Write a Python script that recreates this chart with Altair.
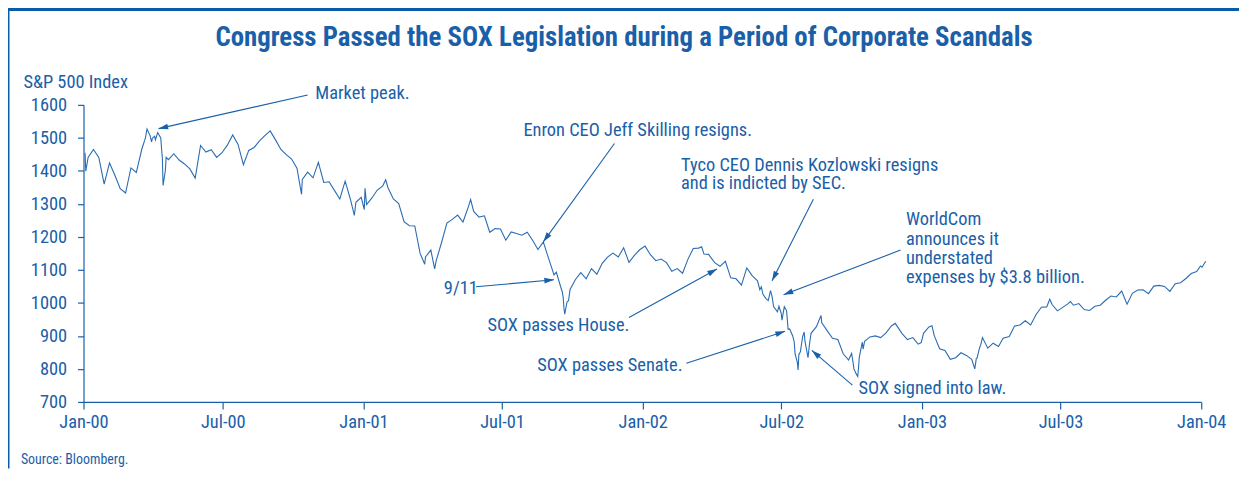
import math
import altair as alt
import pandas as pd

# ---------------- data ----------------
dates_2000 = ["2000-01-03", "2000-01-04", "2000-01-07", "2000-01-14", "2000-01-21", "2000-01-28",
              "2000-02-04", "2000-02-11", "2000-02-18", "2000-02-25", "2000-03-03", "2000-03-10",
              "2000-03-17", "2000-03-24", "2000-03-31", "2000-04-07", "2000-04-14", "2000-04-21",
              "2000-04-28", "2000-05-05", "2000-05-12", "2000-05-19", "2000-05-26", "2000-06-02",
              "2000-06-09", "2000-06-16", "2000-06-23", "2000-06-30", "2000-07-07", "2000-07-14",
              "2000-07-21", "2000-07-28", "2000-08-04", "2000-08-11", "2000-08-18", "2000-08-25",
              "2000-09-01", "2000-09-08", "2000-09-15", "2000-09-22", "2000-09-29", "2000-10-06",
              "2000-10-12", "2000-10-13", "2000-10-20", "2000-10-27", "2000-11-03", "2000-11-10",
              "2000-11-17", "2000-11-24", "2000-12-01", "2000-12-08", "2000-12-15", "2000-12-20",
              "2000-12-22", "2000-12-29"]
values_2000 = [1455, 1399, 1441, 1465, 1441, 1360,
               1424, 1387, 1346, 1333, 1409, 1395,
               1464, 1527, 1499, 1516, 1356, 1434,
               1452, 1433, 1421, 1406, 1378, 1477,
               1457, 1464, 1441, 1455, 1478, 1509,
               1480, 1419, 1462, 1471, 1491, 1507,
               1521, 1494, 1465, 1449, 1436, 1408,
               1329, 1374, 1396, 1379, 1426, 1365,
               1367, 1341, 1315, 1369, 1313, 1265,
               1305, 1320]

dates_2001 = ["2001-01-02", "2001-01-03", "2001-01-05", "2001-01-12", "2001-01-19", "2001-01-26",
              "2001-01-30", "2001-02-02", "2001-02-09", "2001-02-16", "2001-02-23", "2001-03-02",
              "2001-03-09", "2001-03-16", "2001-03-22", "2001-03-23", "2001-03-30", "2001-04-04",
              "2001-04-06", "2001-04-13", "2001-04-20", "2001-04-27", "2001-05-04", "2001-05-11",
              "2001-05-18", "2001-05-21", "2001-05-25", "2001-06-01", "2001-06-08", "2001-06-15",
              "2001-06-22", "2001-06-29", "2001-07-06", "2001-07-13", "2001-07-20", "2001-07-27",
              "2001-08-03", "2001-08-10", "2001-08-17", "2001-08-24", "2001-08-31", "2001-09-07",
              "2001-09-10", "2001-09-17", "2001-09-21", "2001-09-28", "2001-10-05", "2001-10-12",
              "2001-10-19", "2001-10-26", "2001-11-02", "2001-11-09", "2001-11-16", "2001-11-23",
              "2001-11-30", "2001-12-07", "2001-12-14", "2001-12-21", "2001-12-28"]
values_2001 = [1283, 1347, 1298, 1318, 1342, 1354,
               1373, 1349, 1315, 1301, 1246, 1234,
               1233, 1150, 1117, 1139, 1160, 1103,
               1128, 1183, 1242, 1253, 1266, 1245,
               1291, 1313, 1277, 1260, 1264, 1214,
               1225, 1224, 1190, 1215, 1210, 1205,
               1214, 1190, 1162, 1185, 1134, 1085,
               1093, 1039, 966, 1041, 1071, 1092,
               1073, 1104, 1087, 1120, 1139, 1151,
               1139, 1167, 1123, 1144, 1161]

dates_2002 = ["2002-01-04", "2002-01-11", "2002-01-18", "2002-01-25", "2002-02-01", "2002-02-08",
              "2002-02-15", "2002-02-22", "2002-03-01", "2002-03-08", "2002-03-15", "2002-03-19",
              "2002-03-22", "2002-03-28", "2002-04-05", "2002-04-12", "2002-04-19", "2002-04-26",
              "2002-05-03", "2002-05-10", "2002-05-17", "2002-05-24", "2002-05-31", "2002-06-07",
              "2002-06-14", "2002-06-21", "2002-06-28", "2002-07-05", "2002-07-12", "2002-07-19",
              "2002-07-23", "2002-07-26", "2002-07-31", "2002-08-05", "2002-08-09", "2002-08-16",
              "2002-08-22", "2002-08-23", "2002-08-30", "2002-09-06", "2002-09-13", "2002-09-20",
              "2002-09-27", "2002-10-04", "2002-10-09", "2002-10-11", "2002-10-18", "2002-10-25",
              "2002-11-01", "2002-11-08", "2002-11-15", "2002-11-22", "2002-11-27", "2002-12-06",
              "2002-12-13", "2002-12-20", "2002-12-27", "2002-12-31"]
values_2002 = [1172, 1146, 1128, 1133, 1122, 1096,
               1104, 1090, 1132, 1165, 1166, 1170,
               1148, 1147, 1122, 1111, 1126, 1076,
               1073, 1054, 1106, 1083, 1067, 1027,
               1007, 989, 990, 989, 921, 847,
               797, 852, 912, 834, 908, 928,
               962, 940, 916, 893, 889, 846,
               827, 800, 777, 835, 884, 897,
               900, 895, 909, 930, 938, 907,
               889, 895, 875, 880]

dates_2003 = ["2003-01-03", "2003-01-10", "2003-01-14", "2003-01-17", "2003-01-24", "2003-01-31",
              "2003-02-07", "2003-02-14", "2003-02-21", "2003-02-28", "2003-03-07", "2003-03-11",
              "2003-03-14", "2003-03-21", "2003-03-28", "2003-04-04", "2003-04-11", "2003-04-17",
              "2003-04-25", "2003-05-02", "2003-05-09", "2003-05-16", "2003-05-23", "2003-05-30",
              "2003-06-06", "2003-06-13", "2003-06-17", "2003-06-20", "2003-06-27", "2003-07-03",
              "2003-07-11", "2003-07-14", "2003-07-18", "2003-07-25", "2003-08-01", "2003-08-08",
              "2003-08-15", "2003-08-22", "2003-08-29", "2003-09-05", "2003-09-12", "2003-09-19",
              "2003-09-26", "2003-10-03", "2003-10-10", "2003-10-17", "2003-10-24", "2003-10-31",
              "2003-11-07", "2003-11-14", "2003-11-21", "2003-11-28", "2003-12-05", "2003-12-12",
              "2003-12-19", "2003-12-26", "2003-12-31", "2004-01-02", "2004-01-06", "2004-01-07"]
values_2003 = [908, 927, 931, 901, 861, 856,
               829, 834, 849, 841, 829, 800,
               833, 895, 863, 878, 868, 893,
               898, 930, 933, 946, 933, 964,
               987, 988, 1011, 995, 976, 985,
               998, 1004, 993, 998, 980, 977,
               990, 993, 1008, 1021, 1018, 1036,
               996, 1029, 1039, 1040, 1028, 1051,
               1053, 1050, 1035, 1058, 1061, 1074,
               1089, 1095, 1112, 1108, 1123, 1126]

# extra daily readings around the sharpest moves
extra_dates = ["2000-03-21", "2000-03-22", "2000-03-28", "2000-03-30", "2000-04-03", "2000-04-04",
               "2000-04-11", "2000-04-12", "2000-04-13", "2000-04-17", "2000-04-18",
               "2001-09-18", "2001-09-19", "2001-09-20", "2001-09-24", "2001-09-26",
               "2002-06-03", "2002-06-05", "2002-06-11", "2002-06-17", "2002-06-19", "2002-06-26",
               "2002-07-01", "2002-07-02", "2002-07-08", "2002-07-10", "2002-07-16", "2002-07-18",
               "2002-07-22", "2002-07-24", "2002-07-29", "2002-08-01", "2002-08-07",
               "2002-10-01", "2002-10-03", "2002-10-07", "2002-10-10", "2002-10-15", "2002-10-16",
               "2003-03-10", "2003-03-13", "2003-03-17", "2003-03-19"]
extra_values = [1493, 1501, 1507, 1488, 1505, 1494,
                1500, 1467, 1441, 1401, 1441,
                1032, 1016, 984, 1003, 1007,
                1040, 1049, 1013, 1037, 1020, 973,
                968, 948, 976, 920, 900, 881,
                820, 843, 898, 884, 876,
                847, 818, 785, 803, 881, 860,
                807, 832, 862, 875]

# annotations: text anchors and arrows (start -> tip), in data coordinates
note_texts = ["Market peak.", "Enron CEO Jeff Skilling resigns.",
              "Tyco CEO Dennis Kozlowski resigns", "and is indicted by SEC.",
              "WorldCom", "announces it", "understated", "expenses by $3.8 billion.",
              "9/11", "SOX passes House.", "SOX passes Senate.", "SOX signed into law."]
note_dates = ["2000-10-30", "2001-07-29", "2002-02-20", "2002-02-20",
              "2002-12-11", "2002-12-11", "2002-12-11", "2002-12-11",
              "2001-04-16", "2001-06-12", "2001-08-16", "2002-10-10"]
note_values = [1636, 1525, 1419, 1362, 1254, 1194, 1136, 1079, 1046, 932, 811, 742]

arrow_from_dates = ["2000-10-20", "2001-11-25", "2002-08-12", "2002-12-04",
                    "2001-05-28", "2001-12-14", "2002-02-27", "2002-10-02"]
arrow_from_values = [1630, 1483, 1314, 1160, 1049, 956, 817, 751]
arrow_to_dates = ["2000-04-08", "2001-08-24", "2002-06-19", "2002-07-04",
                  "2001-09-07", "2002-04-08", "2002-07-06", "2002-08-10"]
arrow_to_values = [1528, 1185, 1067, 1025, 1070, 1103, 914, 856]

y_ticks = [700, 800, 900, 1000, 1100, 1200, 1300, 1400, 1500, 1600]
x_tick_labels = ["Jan-00", "Jul-00", "Jan-01", "Jul-01", "Jan-02", "Jul-02", "Jan-03", "Jul-03", "Jan-04"]

TITLE = "Congress Passed the SOX Legislation during a Period of Corporate Scandals"
SOURCE = "Source: Bloomberg."

# ---------------- build ----------------
W, H = 1125, 299
Y_MIN, Y_MAX = 700, 1600
X_START, X_END = pd.Timestamp("2000-01-01"), pd.Timestamp("2004-01-01")

TEXT = "#1a60a8"
LINE = "#2a6cb2"
FRAME = "#0b5ca7"
FONT = "Liberation Sans Narrow, Roboto Condensed, DejaVu Sans Condensed, sans-serif"
NOTE_SIZE = 18.5

series = pd.DataFrame({
    "date": pd.to_datetime(dates_2000 + dates_2001 + dates_2002 + dates_2003 + extra_dates),
    "value": values_2000 + values_2001 + values_2002 + values_2003 + extra_values,
}).drop_duplicates("date").sort_values("date").reset_index(drop=True)

notes = pd.DataFrame({"date": pd.to_datetime(note_dates), "value": note_values, "text": note_texts})


def px(d):
    return (pd.Timestamp(d) - X_START) / (X_END - X_START) * W


def py(v):
    return (Y_MAX - v) / (Y_MAX - Y_MIN) * H


angles = [math.degrees(math.atan2(py(v2) - py(v1), px(d2) - px(d1))) % 360
          for d1, v1, d2, v2 in zip(arrow_from_dates, arrow_from_values, arrow_to_dates, arrow_to_values)]

arrows = pd.DataFrame({
    "d1": pd.to_datetime(arrow_from_dates), "v1": arrow_from_values,
    "d2": pd.to_datetime(arrow_to_dates), "v2": arrow_to_values,
    "ang": angles,
})

one = pd.DataFrame({"k": [0]})

x_tick_dates = [alt.DateTime(year=2000 + i // 2, month=1 + 6 * (i % 2), date=1) for i in range(len(x_tick_labels))]

x_scale = alt.Scale(domain=[alt.DateTime(year=2000, month=1, date=1), alt.DateTime(year=2004, month=1, date=1)],
                    nice=False)
y_scale = alt.Scale(domain=[Y_MIN, Y_MAX], nice=False, zero=False)

x_axis = alt.Axis(values=x_tick_dates, format="%b-%y", title=None, tickSize=7, labelPadding=4,
                  grid=False, labelFontSize=NOTE_SIZE, labelFlush=False, labelOverlap=False)
y_axis = alt.Axis(values=y_ticks, format="d", title="S&P 500 Index", titleAngle=0, titleX=-61, titleY=-23,
                  titleAlign="left", titleBaseline="middle", titleFontWeight="normal", titleFontSize=NOTE_SIZE,
                  tickSize=6, labelPadding=11, grid=False, labelFontSize=NOTE_SIZE, labelOverlap=False,
                  labelFlush=False)


def X(field):
    return alt.X(field, type="temporal", scale=x_scale, axis=x_axis)


def Y(field):
    return alt.Y(field, type="quantitative", scale=y_scale, axis=y_axis)


line = alt.Chart(series).mark_line(color=LINE, strokeWidth=1.1).encode(
    x=X("date"), y=Y("value"),
)

arrow_lines = alt.Chart(arrows).mark_rule(color=TEXT, strokeWidth=1.1).encode(
    x=X("d1"), y=Y("v1"), x2="d2:T", y2="v2:Q"
)

arrow_heads = alt.Chart(arrows).mark_point(
    shape="M0,0L-1,-0.3L-1,0.3Z", filled=True, color=TEXT, opacity=1, size=380, strokeWidth=0
).encode(x=X("d2"), y=Y("v2"), angle=alt.Angle("ang:Q", scale=None))

note_text = alt.Chart(notes).mark_text(align="left", baseline="middle", color=TEXT, fontSize=NOTE_SIZE).encode(
    x=X("date"), y=Y("value"), text="text:N"
)

title = alt.Chart(one).mark_text(align="center", baseline="middle", color=TEXT, fontSize=27,
                                 fontWeight="bold").encode(
    x=alt.value(544), y=alt.value(-67), text=alt.value(TITLE)
)

source = alt.Chart(one).mark_text(align="left", baseline="middle", color=TEXT, fontSize=14).encode(
    x=alt.value(-63), y=alt.value(357), text=alt.value(SOURCE)
)

frame_left = alt.Chart(one).mark_rule(color=FRAME, strokeWidth=3).encode(
    x=alt.value(-76), y=alt.value(-96), y2=alt.value(366)
)
frame_top = alt.Chart(one).mark_rule(color=FRAME, strokeWidth=3).encode(
    x=alt.value(-76), x2=alt.value(1163), y=alt.value(-96)
)

chart = alt.layer(line, arrow_lines, arrow_heads, note_text, title, source, frame_left, frame_top).properties(
    width=W, height=H,
    autosize=alt.AutoSizeParams(type="none"),
    padding={"left": 76, "top": 96, "right": 38, "bottom": 67},
).configure_view(stroke=None).configure_axis(
    domainColor=TEXT, tickColor=TEXT, labelColor=TEXT, titleColor=TEXT,
    labelFont=FONT, titleFont=FONT, domainWidth=1.2, tickWidth=1.2, labelOverlap=False,
).configure_text(font=FONT)

chart.save("out.html", embed_options={"renderer": "svg", "actions": False})
